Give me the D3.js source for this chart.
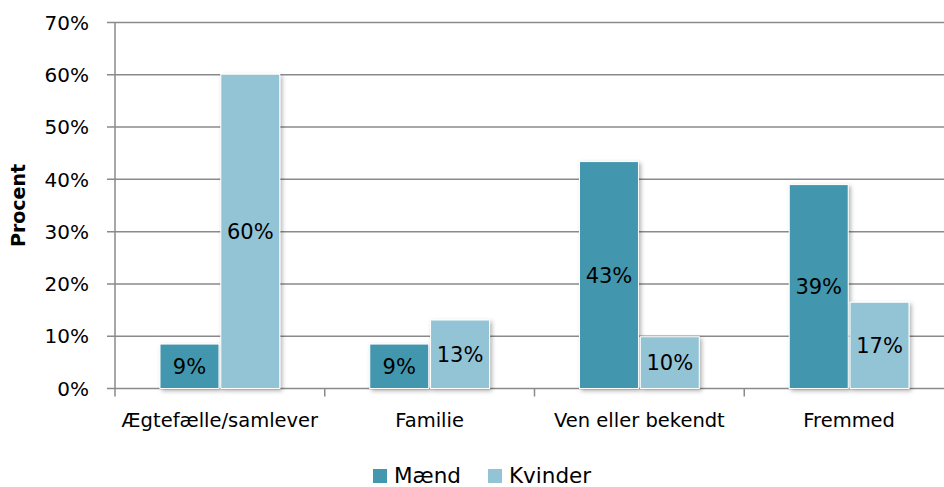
<!DOCTYPE html>
<html>
<head>
<meta charset="utf-8">
<script src="https://cdn.jsdelivr.net/npm/d3@7"></script>
<style>
  body { margin: 0; background: #fff; }
  svg { display: block; }
  text { font-family: "DejaVu Sans", sans-serif; fill: #000; }
</style>
</head>
<body>
<script>
// data
var categories = ["Ægtefælle/samlever", "Familie", "Ven eller bekendt", "Fremmed"];
var series = ["Mænd", "Kvinder"];
var maend = [8.5, 8.5, 43.4, 39.0];
var kvinder = [60.1, 13.1, 9.9, 16.5];
var yTicks = [0, 10, 20, 30, 40, 50, 60, 70];
var colors = ["#4397ae", "#93c4d6"];

var width = 944, height = 487;
var plot = { left: 115, right: 954, top: 22.5, bottom: 388.5 }; // plot runs a bit past the right edge

var svg = d3.select("body").append("svg")
  .attr("width", width)
  .attr("height", height);

// soft shadow like the office chart
var defs = svg.append("defs");
var f = defs.append("filter").attr("id", "shadow")
  .attr("x", "-20%").attr("y", "-20%").attr("width", "150%").attr("height", "150%");
f.append("feDropShadow").attr("dx", 2).attr("dy", 2).attr("stdDeviation", 2)
  .attr("flood-color", "#000").attr("flood-opacity", 0.3);

var x = d3.scaleBand().domain(categories).range([plot.left, plot.right]).padding(0);
var xInner = d3.scaleBand().domain(series).range([0, x.bandwidth()])
  .paddingInner(0.03).paddingOuter(0.74);
var y = d3.scaleLinear().domain([0, 70]).range([plot.bottom, plot.top]);

// gridlines
svg.append("g").selectAll("line").data(yTicks).enter().append("line")
  .attr("x1", plot.left - 8).attr("x2", width)
  .attr("y1", function (d) { return y(d); })
  .attr("y2", function (d) { return y(d); })
  .attr("stroke", "#8a8a8a").attr("stroke-width", 1.5);

// y axis line
svg.append("line")
  .attr("x1", plot.left).attr("x2", plot.left)
  .attr("y1", plot.top).attr("y2", plot.bottom + 8)
  .attr("stroke", "#8a8a8a").attr("stroke-width", 1.5);

// category tick marks
svg.append("g").selectAll("line").data(categories.slice(1)).enter().append("line")
  .attr("x1", function (d) { return x(d); })
  .attr("x2", function (d) { return x(d); })
  .attr("y1", plot.bottom).attr("y2", plot.bottom + 8)
  .attr("stroke", "#8a8a8a").attr("stroke-width", 1.5);

// y tick labels
svg.append("g").selectAll("text").data(yTicks).enter().append("text")
  .attr("x", 89).attr("y", function (d) { return y(d); })
  .attr("dy", "0.36em")
  .attr("text-anchor", "end")
  .style("font-size", "20px")
  .text(function (d) { return d + "%"; });

// y title
svg.append("text")
  .attr("transform", "translate(25," + ((plot.top + plot.bottom) / 2) + ") rotate(-90)")
  .attr("text-anchor", "middle")
  .style("font-size", "19px").style("font-weight", "bold")
  .text("Procent");

// category labels
svg.append("g").selectAll("text").data(categories).enter().append("text")
  .attr("x", function (d) { return x(d) + x.bandwidth() / 2; })
  .attr("y", 427)
  .attr("text-anchor", "middle")
  .style("font-size", "19.5px")
  .text(function (d) { return d; });

// bars
var rows = [];
categories.forEach(function (c, i) {
  rows.push({ cat: c, s: series[0], v: maend[i], col: colors[0] });
  rows.push({ cat: c, s: series[1], v: kvinder[i], col: colors[1] });
});

var bars = svg.append("g").selectAll("g").data(rows).enter().append("g");
bars.append("rect")
  .attr("x", function (d) { return x(d.cat) + xInner(d.s); })
  .attr("y", function (d) { return y(d.v); })
  .attr("width", xInner.bandwidth())
  .attr("height", function (d) { return y(0) - y(d.v); })
  .attr("fill", function (d) { return d.col; })
  .attr("stroke", "#fff").attr("stroke-width", 1)
  .attr("filter", "url(#shadow)");
bars.append("text")
  .attr("x", function (d) { return x(d.cat) + xInner(d.s) + xInner.bandwidth() / 2; })
  .attr("y", function (d) { return (y(d.v) + y(0)) / 2; })
  .attr("dy", "0.36em")
  .attr("text-anchor", "middle")
  .style("font-size", "21px")
  .text(function (d) { return Math.round(d.v) + "%"; });

// legend
var legX = [373, 488];
var leg = svg.append("g").selectAll("g").data(series).enter().append("g")
  .attr("transform", function (d, i) { return "translate(" + legX[i] + ",469)"; });
leg.append("rect").attr("width", 14).attr("height", 14)
  .attr("fill", function (d, i) { return colors[i]; });
leg.append("text").attr("x", 21).attr("y", 14)
  .style("font-size", "21.5px")
  .text(function (d) { return d; });
</script>
</body>
</html>
